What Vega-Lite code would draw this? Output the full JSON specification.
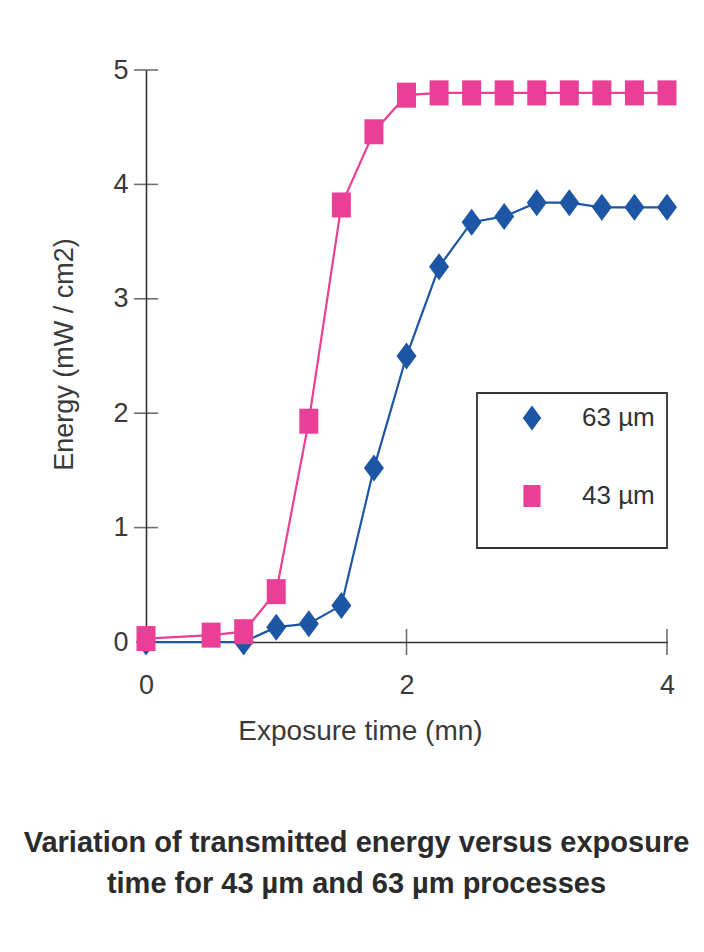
{
  "$schema": "https://vega.github.io/schema/vega-lite/v6.json",
  "autosize": "none",
  "width": 521,
  "height": 572,
  "padding": {"left": 146, "top": 70, "right": 37, "bottom": 310},
  "background": "white",
  "config": {"view": {"stroke": null}, "font": "Liberation Sans"},
  "title": {
    "text": ["Variation of transmitted energy versus exposure", "time for 43 µm and 63 µm processes"],
    "orient": "bottom",
    "anchor": "middle",
    "frame": "group",
    "fontSize": 29,
    "fontWeight": "bold",
    "font": "Liberation Sans",
    "lineHeight": 41,
    "offset": 84,
    "dx": -50,
    "color": "#2b2b2b"
  },
  "layer": [
    {
      "data": {
        "values": [
          {"process": "63 µm", "time": 0, "energy": 0},
          {"process": "63 µm", "time": 0.75, "energy": 0},
          {"process": "63 µm", "time": 1, "energy": 0.13},
          {"process": "63 µm", "time": 1.25, "energy": 0.16},
          {"process": "63 µm", "time": 1.5, "energy": 0.32},
          {"process": "63 µm", "time": 1.75, "energy": 1.52},
          {"process": "63 µm", "time": 2, "energy": 2.5},
          {"process": "63 µm", "time": 2.25, "energy": 3.28},
          {"process": "63 µm", "time": 2.5, "energy": 3.67},
          {"process": "63 µm", "time": 2.75, "energy": 3.72},
          {"process": "63 µm", "time": 3, "energy": 3.84},
          {"process": "63 µm", "time": 3.25, "energy": 3.84},
          {"process": "63 µm", "time": 3.5, "energy": 3.8},
          {"process": "63 µm", "time": 3.75, "energy": 3.8},
          {"process": "63 µm", "time": 4, "energy": 3.8},
          {"process": "43 µm", "time": 0, "energy": 0.03},
          {"process": "43 µm", "time": 0.5, "energy": 0.06},
          {"process": "43 µm", "time": 0.75, "energy": 0.09},
          {"process": "43 µm", "time": 1, "energy": 0.44},
          {"process": "43 µm", "time": 1.25, "energy": 1.93},
          {"process": "43 µm", "time": 1.5, "energy": 3.82},
          {"process": "43 µm", "time": 1.75, "energy": 4.46},
          {"process": "43 µm", "time": 2, "energy": 4.78},
          {"process": "43 µm", "time": 2.25, "energy": 4.8},
          {"process": "43 µm", "time": 2.5, "energy": 4.8},
          {"process": "43 µm", "time": 2.75, "energy": 4.8},
          {"process": "43 µm", "time": 3, "energy": 4.8},
          {"process": "43 µm", "time": 3.25, "energy": 4.8},
          {"process": "43 µm", "time": 3.5, "energy": 4.8},
          {"process": "43 µm", "time": 3.75, "energy": 4.8},
          {"process": "43 µm", "time": 4, "energy": 4.8}
        ]
      },
      "encoding": {
        "x": {
          "field": "time",
          "type": "quantitative",
          "scale": {"domain": [0, 4], "nice": false, "zero": false},
          "axis": {
            "values": [0, 2, 4],
            "format": "d",
            "ticks": false,
            "tickSize": 0,
            "grid": false,
            "labelFlush": false,
            "labelFontSize": 27,
            "labelColor": "#3a3a3a",
            "labelPadding": 30,
            "domainColor": "#333333",
            "domainWidth": 1.6,
            "title": "Exposure time (mn)",
            "titleFontSize": 28,
            "titleFontWeight": "normal",
            "titleColor": "#3a3a3a",
            "titleX": 214,
            "titleY": 97,
            "titleBaseline": "alphabetic",
            "titleAlign": "center"
          }
        },
        "y": {
          "field": "energy",
          "type": "quantitative",
          "scale": {"domain": [0, 5], "nice": false},
          "axis": {
            "values": [0, 1, 2, 3, 4, 5],
            "format": "d",
            "ticks": false,
            "tickSize": 0,
            "grid": false,
            "labelFlush": false,
            "labelFontSize": 27,
            "labelColor": "#3a3a3a",
            "labelPadding": 18,
            "domainColor": "#333333",
            "domainWidth": 1.6,
            "title": "Energy  (mW / cm2)",
            "titleFontSize": 27,
            "titleFontWeight": "normal",
            "titleColor": "#3a3a3a",
            "titleX": -74,
            "titleY": 284,
            "titleAngle": 270,
            "titleBaseline": "alphabetic",
            "titleAlign": "center"
          }
        },
        "color": {
          "field": "process",
          "type": "nominal",
          "scale": {"domain": ["63 µm", "43 µm"], "range": ["#1d56a4", "#ea3f97"]},
          "legend": {
            "orient": "none",
            "legendX": 331,
            "legendY": 323,
            "title": "\u00a0",
            "titleOrient": "bottom",
            "titleFontSize": 18,
            "titlePadding": 8,
            "padding": 12,
            "strokeColor": "#333333",
            "fillColor": "white",
            "symbolSize": 400,
            "symbolStrokeWidth": 2,
            "symbolOffset": 30,
            "labelOffset": 37,
            "labelFontSize": 26,
            "labelColor": "#333333",
            "labelFont": "Liberation Sans",
            "rowPadding": 49,
            "labelExpr": "datum.label + '\u00a0\u00a0\u00a0\u00a0\u00a0\u00a0'",
            "encode": {
              "legend": {
                "update": {
                  "strokeWidth": {"value": 1.8}
                }
              },
              "symbols": {
                "update": {
                  "shape": {"value": {"expr": "datum.value === '63 µm' ? 'M-4.05,0H4.05M0,-1L0.95,0L0,1L-0.95,0Z' : 'M-4.05,0H4.05M-0.9,-0.9H0.9V0.9H-0.9Z'"}},
                  "stroke": {"value": {"expr": "scale('color', datum.value)"}},
                  "fill": {"value": {"expr": "scale('color', datum.value)"}},
                  "strokeWidth": {"value": 2}
                }
              }
            }
          }
        }
      },
      "layer": [
        {"mark": {"type": "line", "strokeWidth": 2.2}},
        {
          "mark": {"type": "point", "filled": true, "size": 625, "opacity": 1},
          "encoding": {
            "shape": {
              "field": "process",
              "type": "nominal",
              "scale": {"domain": ["63 µm", "43 µm"], "range": ["M0,-1.08L0.8,0L0,1.08L-0.8,0Z", "M-0.76,-1H0.76V1H-0.76Z"]},
              "legend": null
            }
          }
        }
      ]
    },
    {
      "data": {"values": [{"v": 1}, {"v": 2}, {"v": 3}, {"v": 4}, {"v": 5}]},
      "mark": {"type": "tick", "orient": "horizontal", "size": 24, "thickness": 1.6, "color": "#333333"},
      "encoding": {
        "x": {"datum": 0, "type": "quantitative"},
        "y": {"field": "v", "type": "quantitative"}
      }
    },
    {
      "data": {"values": [{"v": 2}, {"v": 4}]},
      "mark": {"type": "tick", "orient": "vertical", "size": 26, "thickness": 1.6, "color": "#333333"},
      "encoding": {
        "x": {"field": "v", "type": "quantitative"},
        "y": {"datum": 0, "type": "quantitative"}
      }
    }
  ]
}
